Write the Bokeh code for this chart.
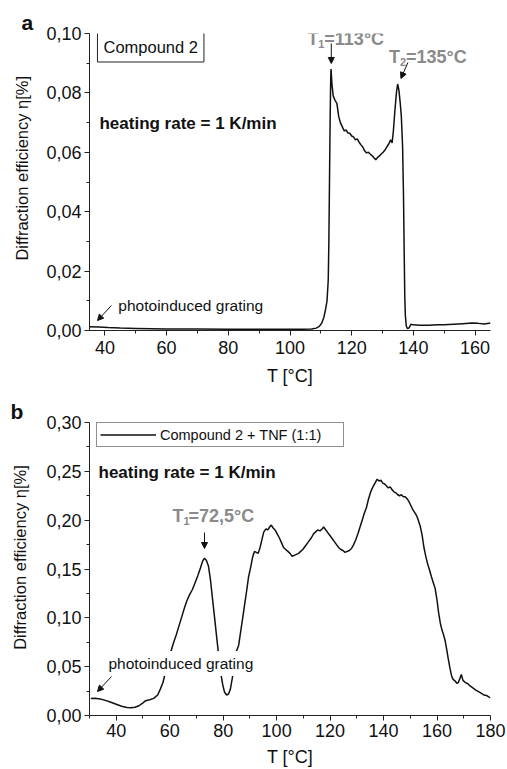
from bokeh.plotting import figure
from bokeh.layouts import column
from bokeh.models import (Range1d, FixedTicker, CustomJSTickFormatter, Label, Arrow,
                          NormalHead, Legend, LegendItem)
from bokeh.embed import file_html
from bokeh.resources import INLINE

# ---------------- data ----------------
# panel a : Compound 2
T_a = [35, 38, 41, 45, 50, 55, 60, 70, 80, 90, 100, 104, 107, 108.5, 109.5, 110.3, 111, 111.6,
       112.0, 112.4, 112.6, 112.8, 113.0, 113.2, 113.3, 113.6, 114.0, 114.6, 115.2, 115.8, 116.4,
       117.0, 117.6, 118.2, 118.8, 119.4, 120.0, 120.6, 121.2, 121.8, 122.4, 123.0, 123.6, 124.2,
       124.8, 125.4, 126.0, 126.6, 127.2, 127.8, 128.4, 129.0, 129.6, 130.2, 130.8, 131.4, 132.0,
       132.6, 133.1, 133.5, 134.0, 134.5, 134.9, 135.3, 135.7, 136.1, 136.5, 136.8, 137.0, 137.2,
       137.4, 137.7, 138.1, 138.6, 139.2, 140, 142, 145, 148, 150, 153, 156, 159, 161, 163, 165]
eta_a = [0.0013, 0.0012, 0.0010, 0.0008, 0.0007, 0.0006, 0.0005, 0.0005, 0.0004, 0.0004, 0.0004,
         0.0004, 0.0005, 0.0008, 0.0014, 0.0025, 0.0045, 0.0075,
         0.010, 0.017, 0.030, 0.050, 0.070, 0.085, 0.088, 0.083, 0.079, 0.0775, 0.0765, 0.072, 0.0698,
         0.0685, 0.0672, 0.0675, 0.0665, 0.0664, 0.0655, 0.0652, 0.0642, 0.0645, 0.0634, 0.0625, 0.0618, 0.0605,
         0.0598, 0.0600, 0.0594, 0.0589, 0.0582, 0.0575, 0.0583, 0.0588, 0.0594, 0.0600, 0.0608, 0.0618, 0.0628,
         0.0642, 0.0632, 0.067, 0.074, 0.080, 0.083, 0.081, 0.077, 0.072, 0.062, 0.045, 0.028, 0.012,
         0.005, 0.0015, 0.0006, 0.0009, 0.0021, 0.0019, 0.0018, 0.0018, 0.0019, 0.0019, 0.0021, 0.0023,
         0.0025, 0.0024, 0.0022, 0.0025]

# panel b : Compound 2 + TNF (1:1)
T_b = [30.5, 32, 34, 36, 38, 40, 42, 44, 45.5, 47, 48.5, 50, 51, 52.5, 54, 55.5, 56.5, 57.5, 58.5,
       59.5, 60.5, 61.5, 62.5, 63.5, 64.5, 65.5, 66.5, 67.5, 68.5, 69.5, 70.5, 71.5, 72.3, 73.0, 73.7,
       74.5, 75.2, 76.0, 76.8, 77.5, 78.3, 79.0, 79.8, 80.5, 81.3, 82.0, 82.7, 83.4, 84.2, 85.0, 85.8,
       86.5, 87.2, 88.0, 88.8, 89.5, 90.3, 91.0, 91.7, 92.4, 93.1, 93.8, 94.5, 95.2, 96.0, 96.7, 97.4,
       98.0, 98.7, 99.4, 100.2, 101.0, 101.8, 102.6, 103.4, 104.2, 105.0, 105.8, 106.6, 107.4, 108.2,
       109.0, 109.8, 110.6, 111.4, 112.2, 113.0, 113.8, 114.6, 115.4, 116.2, 117.0, 117.6, 118.4, 119.2,
       120.0, 120.8, 121.6, 122.4, 123.2, 124.0, 124.8, 125.6, 126.4, 127.2, 128.0, 128.8, 129.6, 130.4,
       131.2, 132.0, 132.8, 133.6, 134.4, 135.2, 136.0, 136.8, 137.6, 138.3, 139.0, 139.7, 140.4, 141.1,
       141.8, 142.5, 143.2, 143.9, 144.6, 145.3, 146.0, 146.7, 147.4, 148.1, 148.8, 149.5, 150.2, 150.9,
       151.6, 152.3, 153.0, 153.7, 154.4, 155.1, 155.8, 156.5, 157.2, 157.9, 158.6, 159.3, 160.0, 160.6,
       161.2, 161.8, 162.4, 163.0, 163.6, 164.2, 164.8, 165.4, 166.0, 166.7, 167.4, 168.0, 168.5, 169.1,
       169.7, 170.5, 171.5, 172.5, 173.5, 174.5, 175.5, 176.5, 177.5, 178.5, 179.3, 180.0]
eta_b = [0.0175, 0.0176, 0.0168, 0.0155, 0.0135, 0.0115, 0.0095, 0.0082, 0.0079, 0.0085, 0.0100,
         0.0130, 0.0152, 0.0162, 0.0175, 0.021, 0.027, 0.034, 0.045,
         0.056, 0.066, 0.075, 0.083, 0.092, 0.101, 0.110, 0.118, 0.124, 0.129, 0.136, 0.143, 0.151,
         0.158, 0.161, 0.159,
         0.153, 0.140, 0.120, 0.100, 0.082, 0.062, 0.045, 0.032, 0.024, 0.021, 0.022, 0.027, 0.038,
         0.052, 0.066, 0.072,
         0.085, 0.098, 0.113, 0.128, 0.142, 0.152, 0.162, 0.168, 0.167, 0.166, 0.172, 0.180, 0.188,
         0.191, 0.190, 0.193,
         0.195, 0.192, 0.190, 0.186, 0.182, 0.177, 0.172, 0.170, 0.168, 0.166, 0.163, 0.164, 0.165,
         0.166,
         0.168, 0.170, 0.173, 0.176, 0.179, 0.182, 0.186, 0.188, 0.190, 0.189, 0.191, 0.193, 0.190,
         0.187,
         0.184, 0.181, 0.178, 0.175, 0.172, 0.170, 0.169, 0.167, 0.168, 0.169, 0.171, 0.175, 0.180,
         0.186,
         0.193, 0.200, 0.207, 0.213, 0.222, 0.229, 0.234, 0.238, 0.242, 0.240, 0.241, 0.238, 0.237,
         0.235,
         0.233, 0.234, 0.231, 0.229, 0.228, 0.226, 0.225, 0.226, 0.224, 0.224, 0.222, 0.219, 0.215,
         0.211,
         0.208, 0.205, 0.200, 0.194, 0.185, 0.172, 0.163, 0.155, 0.149, 0.142, 0.136, 0.130, 0.118,
         0.105,
         0.095, 0.088, 0.083, 0.077, 0.068, 0.058, 0.049, 0.041, 0.037, 0.0355, 0.033, 0.034, 0.0375,
         0.042,
         0.036, 0.034, 0.0325, 0.030, 0.028, 0.026, 0.0245, 0.023, 0.021, 0.0205, 0.019, 0.018]

xticks_a = [40, 60, 80, 100, 120, 140, 160]
xminor_a = [50, 70, 90, 110, 130, 150]
yticks_a = [0.0, 0.02, 0.04, 0.06, 0.08, 0.10]
yminor_a = [0.01, 0.03, 0.05, 0.07, 0.09]
xticks_b = [40, 60, 80, 100, 120, 140, 160, 180]
xminor_b = [30, 50, 70, 90, 110, 130, 150, 170]
yticks_b = [0.0, 0.05, 0.10, 0.15, 0.20, 0.25, 0.30]
yminor_b = [0.025, 0.075, 0.125, 0.175, 0.225, 0.275]

FONT = "Liberation Sans"
GRAY = "#8a8a8a"
NB = "\u00a0"
YLABEL = "Diffraction efficiency \u03b7[%]"
XLABEL = "T [\u00b0C]"

# ---------------- geometry helpers (pixel -> data, for annotations) ----------------
def pa(px, py):
    return 35 + (px - 88) * 130 / 403, (330 - py) * 0.10 / 297


def pb(px, py):
    return 30 + (px - 89) * 150 / 401, (715 - py) * 0.30 / 293


fmt = CustomJSTickFormatter(code="return tick.toFixed(2).replace('.', ',');")


def style(p, xt, xm, yt, ym, panel, offset, ylab, xstand, xlabstand, ylabstand):
    p.xgrid.visible = False
    p.ygrid.visible = False
    p.outline_line_color = None
    p.xaxis.ticker = FixedTicker(ticks=xt, minor_ticks=xm)
    p.yaxis.ticker = FixedTicker(ticks=yt, minor_ticks=ym)
    p.yaxis.formatter = fmt
    for ax in (p.xaxis[0], p.yaxis[0]):
        ax.axis_line_color = "#222222"
        ax.major_tick_line_color = "#222222"
        ax.minor_tick_line_color = "#222222"
        ax.major_tick_in = 0
        ax.major_tick_out = 5
        ax.minor_tick_in = 0
        ax.minor_tick_out = 3
        ax.major_label_text_font = FONT
        ax.major_label_text_font_size = "18px"
        ax.major_label_text_color = "#111111"
        ax.axis_label_text_font = FONT
        ax.axis_label_text_font_style = "normal"
        ax.axis_label_text_color = "#111111"
    p.xaxis.major_label_standoff = xstand
    p.yaxis.major_label_standoff = 3
    p.xaxis.axis_label = XLABEL
    p.xaxis.axis_label_text_font_size = "18px"
    p.xaxis.axis_label_standoff = xlabstand
    p.yaxis.axis_label = ylab
    p.yaxis.axis_label_text_font_size = "16.5px"
    p.yaxis.axis_label_standoff = ylabstand
    p.title.text = panel
    p.title.text_font = FONT
    p.title.text_font_size = "21px"
    p.title.text_font_style = "bold"
    p.title.text_color = "#111111"
    p.title.align = "left"
    p.title.offset = offset
    p.title.standoff = 0


def lab(p, conv, px, py, text, size, bold=False, color="#111111", align="left",
        baseline="alphabetic", **kw):
    x, y = conv(px, py)
    p.add_layout(Label(x=x, y=y, text=text, text_font=FONT, text_font_size=size,
                       text_font_style="bold" if bold else "normal", text_color=color,
                       text_align=align, text_baseline=baseline, **kw))


def arrow(p, conv, p0, p1):
    x0, y0 = conv(*p0)
    x1, y1 = conv(*p1)
    p.add_layout(Arrow(end=NormalHead(size=6, fill_color="#111111", line_color="#111111"),
                       x_start=x0, y_start=y0, x_end=x1, y_end=y1,
                       line_color="#111111", line_width=1))


# ---------------- panel a ----------------
pA = figure(width=507, height=395, output_backend="svg", toolbar_location=None,
            x_range=Range1d(35, 165), y_range=Range1d(0, 0.10),
            min_border_left=88, min_border_right=16, min_border_top=33, min_border_bottom=65)
style(pA, xticks_a, xminor_a, yticks_a, yminor_a, "a", -68, NB * 6 + YLABEL, 5, 9, 12)
pA.line(T_a, eta_a, line_color="#111111", line_width=1.5)

lab(pA, pa, 96, 46.5, "Compound 2", "16.5px", baseline="middle",
    border_line_color="#222222", border_line_width=1, background_fill_color="white", padding=6)
lab(pA, pa, 98, 123, "heating rate = 1 K/min", "17px", bold=True)
# T1
lab(pA, pa, 307, 38, "T", "18px", bold=True, color=GRAY)
lab(pA, pa, 318, 43, "1", "11px", bold=True, color=GRAY)
lab(pA, pa, 324, 38, "=113\u00b0C", "18px", bold=True, color=GRAY)
arrow(pA, pa, (331, 43), (331, 63))
# T2
lab(pA, pa, 389, 56, "T", "18px", bold=True, color=GRAY)
lab(pA, pa, 400, 61, "2", "11px", bold=True, color=GRAY)
lab(pA, pa, 406, 56, "=135\u00b0C", "18px", bold=True, color=GRAY)
arrow(pA, pa, (408, 62), (401, 78))
# photoinduced grating
lab(pA, pa, 114, 305, "photoinduced grating", "15.5px", background_fill_color="white", padding=3)
arrow(pA, pa, (110, 305), (96, 320))

# ---------------- panel b ----------------
pB = figure(width=507, height=374, output_backend="svg", toolbar_location=None,
            x_range=Range1d(30, 180), y_range=Range1d(0, 0.30),
            min_border_left=89, min_border_right=17, min_border_top=27, min_border_bottom=54)
style(pB, xticks_b, xminor_b, yticks_b, yminor_b, "b", -79, NB * 5 + YLABEL, 3, 7, 14)
rB = pB.line(T_b, eta_b, line_color="#111111", line_width=1.5)

legend = Legend(items=[LegendItem(label="Compound 2 + TNF (1:1)", renderers=[rB])],
                location=(7, 268), orientation="vertical",
                label_text_font=FONT, label_text_font_size="14.5px", label_text_color="#111111",
                glyph_width=56, glyph_height=17, label_height=17, label_width=180,
                label_standoff=4, padding=3, spacing=0, margin=0,
                border_line_color="#222222", border_line_width=1,
                background_fill_color="white", background_fill_alpha=1.0)
pB.add_layout(legend)

lab(pB, pb, 98, 472, "heating rate = 1 K/min", "17px", bold=True)
lab(pB, pb, 172, 515, "T", "18px", bold=True, color=GRAY)
lab(pB, pb, 183, 520, "1", "11px", bold=True, color=GRAY)
lab(pB, pb, 188, 515, "=72,5\u00b0C", "18px", bold=True, color=GRAY)
arrow(pB, pb, (204, 532), (204, 548))
lab(pB, pb, 104, 663, "photoinduced grating", "15.5px", background_fill_color="white", padding=4)
arrow(pB, pb, (111, 676), (97, 691))

layout = column(pA, pB, spacing=0)
open("out.html", "w").write(file_html(layout, INLINE))
